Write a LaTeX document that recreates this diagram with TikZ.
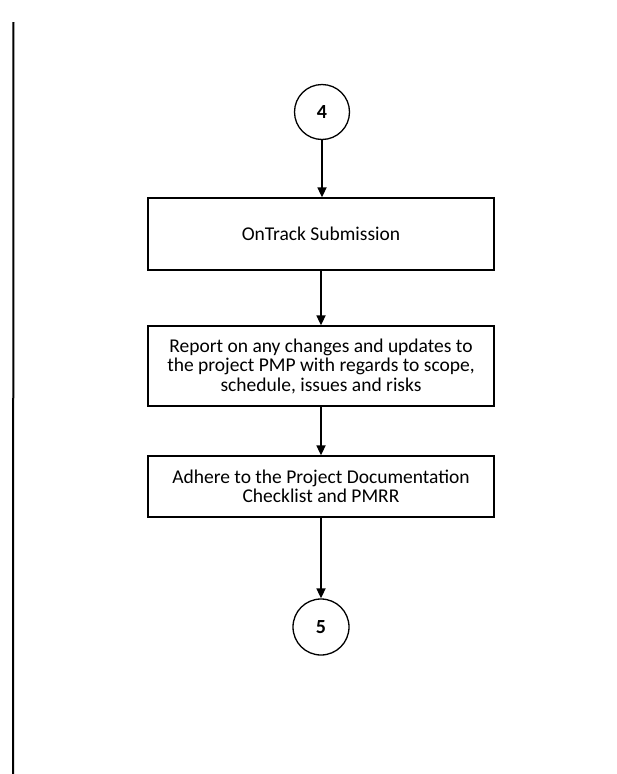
\documentclass[tikz,border=0pt]{standalone}
\usepackage{fontspec}
\setmainfont{Carlito}
\usetikzlibrary{arrows.meta}
\begin{document}
\begin{tikzpicture}[x=1pt,y=-1pt,
  procbox/.style={draw=black,line width=1.3pt,minimum width=346pt,align=center,font=\fontsize{19.5}{19.5}\selectfont,inner sep=0pt},
  conn/.style={draw=black,circle,line width=1.3pt,minimum size=55pt,inner sep=0pt,font=\fontsize{20}{22}\selectfont\bfseries},
  flow/.style={draw=black,line width=1.7pt,-{Triangle[length=10pt,width=9pt]}}]
\useasboundingbox (0,0) rectangle (616,774);
\fill[white] (0,0) rectangle (616,774);
\coordinate (lt) at (13.5,22);
\coordinate (lb) at (13,774);
\draw[line width=2pt] (lt) -- (lb);
\node[conn] (c4) at (322,112) {4};
\node[procbox,minimum height=72pt] (b1) at (321,234) {OnTrack Submission};
\node[procbox,minimum height=80pt] (b2) at (321,366) {Report on any changes and updates to\\the project PMP with regards to scope,\\schedule, issues and risks};
\node[procbox,minimum height=61pt] (b3) at (321,486.5) {Adhere to the Project Documentation\\Checklist and PMRR};
\node[conn,minimum size=56pt] (c5) at (321,627) {5};
\draw[flow] (c4.south) -- (c4.south |- b1.north);
\draw[flow] (b1.south) -- (b2.north);
\draw[flow] (b2.south) -- (b3.north);
\draw[flow] (b3.south) -- (c5.north);
\end{tikzpicture}
\end{document}
